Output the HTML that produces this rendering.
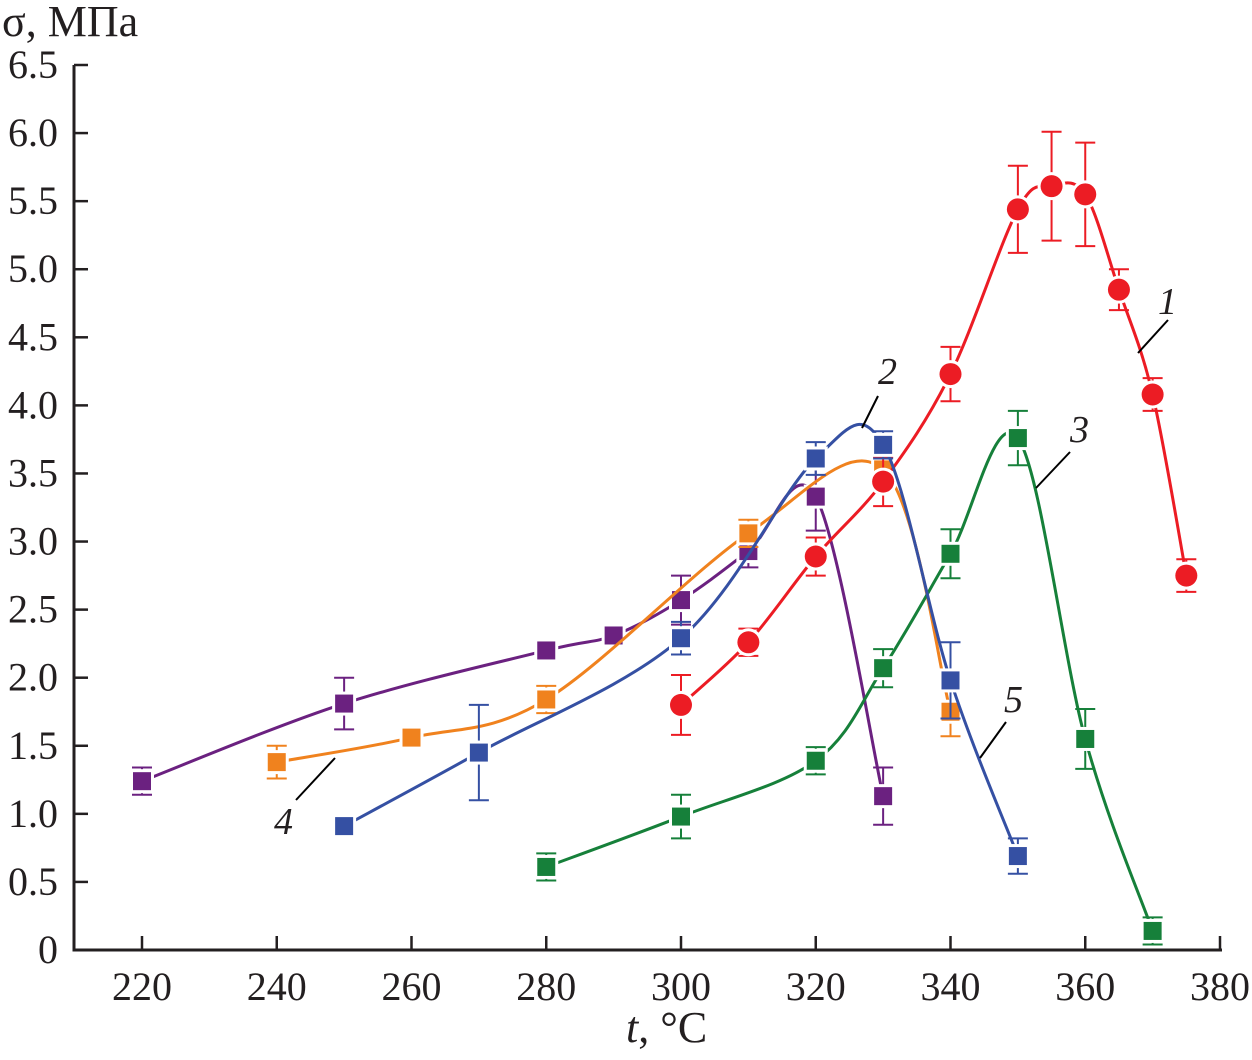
<!DOCTYPE html>
<html><head><meta charset="utf-8"><style>
body{margin:0;background:#fff;}
svg text{font-family:"Liberation Serif",serif;fill:#231f20;}
</style></head><body>
<svg id="chart" width="1252" height="1055" viewBox="0 0 1252 1055" xmlns="http://www.w3.org/2000/svg">
<g id="axes"></g>
<g id="series"></g>
<text x="2" y="36" font-size="44">σ, МПа</text>
<text x="626" y="1042" font-size="44"><tspan font-style="italic">t</tspan>, °C</text>
<g font-size="38" font-style="italic">
<text x="1158" y="314">1</text>
<line x1="1168" y1="320" x2="1138" y2="353" stroke="#000" stroke-width="2"/>
<text x="878" y="384">2</text>
<line x1="878" y1="396" x2="862" y2="428" stroke="#000" stroke-width="2"/>
<text x="1070" y="442">3</text>
<line x1="1070" y1="452" x2="1036" y2="488" stroke="#000" stroke-width="2"/>
<text x="274" y="834">4</text>
<line x1="296" y1="800" x2="335" y2="758" stroke="#000" stroke-width="2"/>
<text x="1004" y="712">5</text>
<line x1="1006" y1="722" x2="980" y2="758" stroke="#000" stroke-width="2"/>
</g>
</svg>
<script>
const xTicks=[220,240,260,280,300,320,340,360,380];
const yTicks=[0,0.5,1.0,1.5,2.0,2.5,3.0,3.5,4.0,4.5,5.0,5.5,6.0,6.5];
const redX=[300,310,320,330,340,350,355,360,365,370,375];
const redY=[1.80,2.26,2.89,3.44,4.23,5.44,5.61,5.55,4.85,4.08,2.75];
const redE=[0.22,0.1,0.14,0.18,0.2,0.32,0.4,0.38,0.15,0.12,0.12];
const blueX=[250,270,300,320,330,340,350];
const blueY=[0.91,1.45,2.29,3.61,3.71,1.98,0.69];
const blueE=[0.02,0.35,0.12,0.12,0.1,0.28,0.13];
const greenX=[280,300,320,330,340,350,360,370];
const greenY=[0.61,0.98,1.39,2.07,2.91,3.76,1.55,0.14];
const greenE=[0.1,0.16,0.1,0.14,0.18,0.2,0.22,0.1];
const orangeX=[240,260,280,310,330,340];
const orangeY=[1.38,1.56,1.84,3.06,3.53,1.75];
const orangeE=[0.12,0.05,0.1,0.1,0.1,0.18];
const purpleX=[220,250,280,290,300,310,320,330];
const purpleY=[1.24,1.81,2.20,2.31,2.57,2.93,3.33,1.13];
const purpleE=[0.1,0.19,0.04,0.03,0.18,0.12,0.25,0.21];

const NS="http://www.w3.org/2000/svg";
const X0=74,Y0=950;
function sx(v){return 142+(v-220)*(1220-142)/160;}
function sy(v){return 950-v*(950-65)/6.5;}
function mk(tag,attrs,parent){const e=document.createElementNS(NS,tag);for(const k in attrs)e.setAttribute(k,attrs[k]);parent.appendChild(e);return e;}
const axes=document.getElementById('axes');
const ax=mk('path',{d:`M${X0},${sy(6.5)}V${Y0}H1222`,fill:'none',stroke:'#231f20','stroke-width':3},axes);


xTicks.forEach(t=>{
 const l=mk('line',{x1:sx(t),x2:sx(t),y1:Y0,y2:Y0-14,stroke:'#231f20','stroke-width':2.5},axes);
 
 
 const tx=mk('text',{x:sx(t),y:Y0+50,'font-size':40,'text-anchor':'middle'},axes);
 
 
 tx.textContent=t;
});
yTicks.forEach(t=>{
 const l=mk('line',{x1:X0,x2:X0+14,y1:sy(t),y2:sy(t),stroke:'#231f20','stroke-width':2.5},axes);
 
 
 const tx=mk('text',{x:58,y:sy(t)+13,'font-size':40,'text-anchor':'end'},axes);
 
 
 tx.textContent=t===0?'0':t.toFixed(1);
});
function spline(xs,ys){
 const p=xs.map((x,i)=>[sx(x),sy(ys[i])]);
 let d=`M${p[0][0]},${p[0][1]}`;
 for(let i=0;i<p.length-1;i++){
  const a=p[Math.max(0,i-1)],b=p[i],c=p[i+1],e=p[Math.min(p.length-1,i+2)];
  const c1=[b[0]+(c[0]-a[0])/6,b[1]+(c[1]-a[1])/6],c2=[c[0]-(e[0]-b[0])/6,c[1]-(e[1]-b[1])/6];
  d+=`C${c1[0]},${c1[1]} ${c2[0]},${c2[1]} ${c[0]},${c[1]}`;
 }
 return d;
}
const ser=document.getElementById('series');
function draw(name,xs,ys,es,col,shape){
 const g=mk('g',{},ser);
 
 
 const pth=mk('path',{d:spline(xs,ys),fill:'none',stroke:col,'stroke-width':3},g);
 
 
 xs.forEach((x,i)=>{
  const cx=sx(x),cy=sy(ys[i]),t=sy(ys[i]+es[i]),b=sy(ys[i]-es[i]);
  const eb=mk('path',{d:`M${cx},${t}V${b}M${cx-10},${t}H${cx+10}M${cx-10},${b}H${cx+10}`,stroke:col,'stroke-width':2,fill:'none'},g);
  
  
  let m;
  if(shape==='c'){mk('circle',{cx,cy,r:14,fill:'#fff'},g);m=mk('circle',{cx,cy,r:11,fill:col},g);}
  else{mk('rect',{x:cx-12,y:cy-12,width:24,height:24,fill:'#fff'},g);m=mk('rect',{x:cx-9,y:cy-9,width:18,height:18,fill:col},g);}
  
  
 });
}
draw('purple',purpleX,purpleY,purpleE,'#6b2180','s');
draw('orange',orangeX,orangeY,orangeE,'#f0821e','s');
draw('green',greenX,greenY,greenE,'#16803a','s');
draw('red',redX,redY,redE,'#ec1c24','c');
draw('blue',blueX,blueY,blueE,'#3550a3','s');
</script>
</body></html>
